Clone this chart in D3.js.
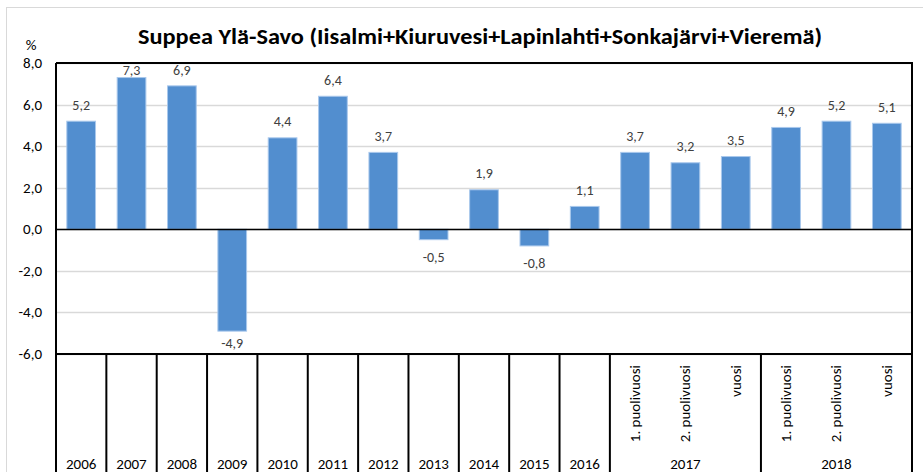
<!DOCTYPE html>
<html>
<head>
<meta charset="utf-8">
<script src="https://cdn.jsdelivr.net/npm/d3@7"></script>
<style>
body { margin: 0; background: #fff; }
svg { font-family: Carlito, "Open Sans", "Liberation Sans", sans-serif; }
</style>
</head>
<body>
<svg id="chart" width="923" height="472"></svg>
<script>
// data
var categories = ["2006","2007","2008","2009","2010","2011","2012","2013","2014","2015","2016",
    "1. puolivuosi","2. puolivuosi","vuosi","1. puolivuosi","2. puolivuosi","vuosi"];
var groups = ["2006","2007","2008","2009","2010","2011","2012","2013","2014","2015","2016",
    "2017","2017","2017","2018","2018","2018"];
var values = [5.2, 7.3, 6.9, -4.9, 4.4, 6.4, 3.7, -0.5, 1.9, -0.8, 1.1, 3.7, 3.2, 3.5, 4.9, 5.2, 5.1];
var yTicks = [-6, -4, -2, 0, 2, 4, 6, 8];

var svg = d3.select("#chart");
var plotLeft = 56, plotRight = 912, plotTop = 63, plotBottom = 354;

function fmt(v){
    return d3.format(".1f")(v).replace(".", ",").replace("−", "-");
}

// outer chart frame
svg.append("rect")
    .attr("x", 6.5).attr("y", 7.5)
    .attr("width", 940).attr("height", 500)
    .style("fill", "none")
    .style("stroke", "#d9d9d9");

var x = d3.scaleBand()
    .domain(d3.range(categories.length))
    .range([plotLeft, plotRight])
    .paddingInner(0.43)
    .paddingOuter(0.215);

var y = d3.scaleLinear()
    .domain([-6, 8])
    .range([plotBottom, plotTop]);

// gridlines
svg.selectAll("line.grid")
    .data(yTicks)
    .enter()
    .append("line")
    .attr("class", "grid")
    .attr("x1", plotLeft).attr("x2", plotRight)
    .attr("y1", function(d){ return Math.round(y(d)) + 0.5; })
    .attr("y2", function(d){ return Math.round(y(d)) + 0.5; })
    .style("stroke", "#d9d9d9")
    .style("stroke-width", 1.5);

// bars
svg.selectAll("rect.bar")
    .data(values)
    .enter()
    .append("rect")
    .attr("class", "bar")
    .attr("x", function(d,i){ return x(i); })
    .attr("y", function(d){ return y(Math.max(0, d)); })
    .attr("width", x.bandwidth())
    .attr("height", function(d){ return Math.abs(y(d) - y(0)); })
    .style("fill", "#528ecf")
    .style("stroke", "#a9c8ec")
    .style("stroke-width", 1);

// value labels (kept inside the plot area, like excel does)
svg.selectAll("text.val")
    .data(values)
    .enter()
    .append("text")
    .attr("class", "val")
    .attr("x", function(d,i){ return x(i) + x.bandwidth() / 2; })
    .attr("y", function(d){
        if (d >= 0) return Math.max(y(d) - 11.5, plotTop + 12);
        return y(d) + (y(d) - y(0) < 20 ? 22 : 17);
    })
    .attr("text-anchor", "middle")
    .attr("font-size", "14px")
    .attr("fill", "#404040")
    .text(function(d){ return fmt(d); });

// zero line
svg.append("line")
    .attr("x1", plotLeft).attr("x2", plotRight)
    .attr("y1", Math.round(y(0)) + 0.5).attr("y2", Math.round(y(0)) + 0.5)
    .style("stroke", "#000").style("stroke-width", 1.5);

// plot frame (top, right) and left axis
svg.append("path")
    .attr("d", "M" + plotLeft + "," + plotTop + "H" + plotRight + "V472")
    .style("fill", "none").style("stroke", "#000").style("stroke-width", 2);
svg.append("line")
    .attr("x1", plotLeft).attr("x2", plotLeft)
    .attr("y1", plotTop).attr("y2", 472)
    .style("stroke", "#000").style("stroke-width", 2);
svg.append("line")
    .attr("x1", plotLeft).attr("x2", plotRight)
    .attr("y1", plotBottom).attr("y2", plotBottom)
    .style("stroke", "#000").style("stroke-width", 2);

// y tick labels
svg.selectAll("text.ytick")
    .data(yTicks)
    .enter()
    .append("text")
    .attr("class", "ytick")
    .attr("x", 42)
    .attr("y", function(d){ return y(d) + 5; })
    .attr("text-anchor", "end")
    .attr("font-size", "15px")
    .attr("fill", "#000")
    .text(function(d){ return fmt(d); });

svg.append("text")
    .attr("x", 31).attr("y", 50)
    .attr("text-anchor", "middle")
    .attr("font-size", "15px")
    .text("%");

// category separators: at group boundaries only
var step = x.step();
var bounds = [];
groups.forEach(function(g, i){
    if (i > 0 && groups[i - 1] !== g) bounds.push(i);
});
svg.selectAll("line.sep")
    .data(bounds)
    .enter()
    .append("line")
    .attr("class", "sep")
    .attr("x1", function(d){ return x(d) - step * x.paddingInner() / 2; })
    .attr("x2", function(d){ return x(d) - step * x.paddingInner() / 2; })
    .attr("y1", plotBottom).attr("y2", 472)
    .style("stroke", "#000").style("stroke-width", 2);

// inner (rotated) labels for sub categories
svg.selectAll("text.sub")
    .data(categories.map(function(c, i){ return {c: c, g: groups[i], i: i}; })
        .filter(function(d){ return d.c !== d.g; }))
    .enter()
    .append("text")
    .attr("class", "sub")
    .attr("transform", function(d){
        return "translate(" + (x(d.i) + x.bandwidth() / 2 + 5) + "," + (plotBottom + 11) + ") rotate(-90)";
    })
    .attr("text-anchor", "end")
    .attr("font-size", "15px")
    .text(function(d){ return d.c; });

// group labels
var groupNames = Array.from(new Set(groups));
svg.selectAll("text.grp")
    .data(groupNames)
    .enter()
    .append("text")
    .attr("class", "grp")
    .attr("x", function(g){
        var idx = d3.range(groups.length).filter(function(i){ return groups[i] === g; });
        return (x(idx[0]) + x(idx[idx.length - 1]) + x.bandwidth()) / 2;
    })
    .attr("y", 469)
    .attr("text-anchor", "middle")
    .attr("font-size", "15px")
    .text(function(g){ return g; });

// title
svg.append("text")
    .attr("x", 480).attr("y", 44)
    .attr("text-anchor", "middle")
    .attr("font-size", "22px")
    .attr("font-weight", "bold")
    .attr("textLength", 684)
    .attr("lengthAdjust", "spacingAndGlyphs")
    .text("Suppea Ylä-Savo (Iisalmi+Kiuruvesi+Lapinlahti+Sonkajärvi+Vieremä)");
</script>
</body>
</html>
